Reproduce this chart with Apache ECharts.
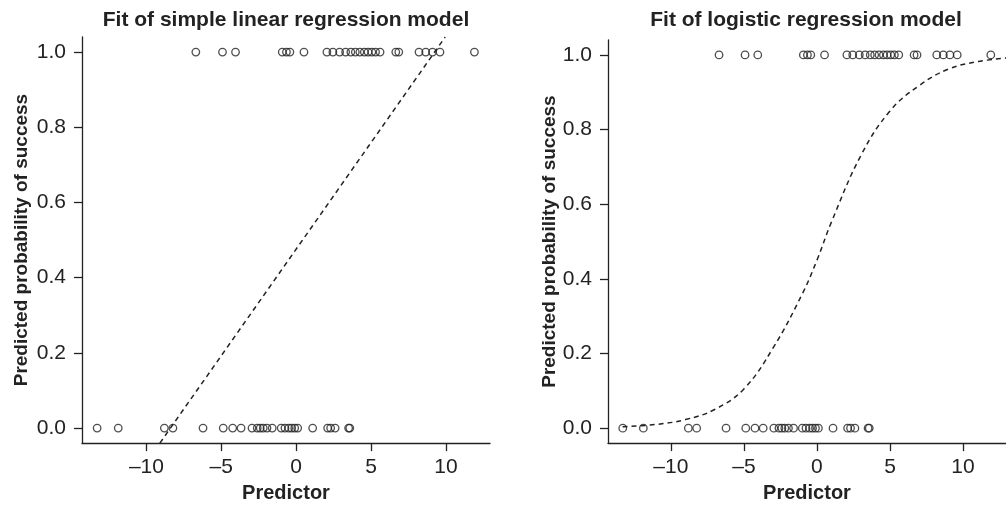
<!DOCTYPE html>
<html>
<head>
<meta charset="utf-8">
<script src="https://cdn.jsdelivr.net/npm/echarts@6/dist/echarts.min.js"></script>
<style>
  html, body { margin: 0; padding: 0; background: #fff; }
  #main { width: 1006px; height: 508px; }
</style>
</head>
<body>
<div id="main"></div>
<script>
const successX = [-6.7, -4.92, -4.05, -0.93, -0.65, -0.42, 0.52,
  2.05, 2.45, 2.9, 3.3, 3.65, 3.95, 4.25, 4.55, 4.8, 5.05, 5.3, 5.6,
  6.65, 6.85, 8.2, 8.65, 9.1, 9.6, 11.9];
const failureX = [-13.29, -11.88, -8.8, -8.23, -6.22, -4.87, -4.24, -3.68,
  -2.95, -2.6, -2.4, -2.2, -1.95, -1.6,
  -1.0, -0.75, -0.5, -0.3, -0.1, 0.1,
  1.1, 2.1, 2.3, 2.6, 3.5, 3.58];

// fitted lines
const linearX = [-9.1, 9.95];
const linearY = [-0.04, 1.04];
const logisticX = [-13.3, -11, -9, -7, -5, -3, -1, 0, 1, 3, 5, 7, 9, 11, 13];
const logisticY = [0.004, 0.01, 0.023, 0.05, 0.105, 0.215, 0.36, 0.45, 0.553,
  0.73, 0.85, 0.918, 0.962, 0.982, 0.992];

const xTicks = [-10, -5, 0, 5, 10];
const yTicks = [0, 0.2, 0.4, 0.6, 0.8, 1.0];

const ink = "#222";
const font = "Liberation Sans, Arial, Helvetica, sans-serif";

function pairs(xs, ys) {
  return xs.map((x, i) => [x, Array.isArray(ys) ? ys[i] : ys]);
}

function xAxis(idx) {
  return {
    gridIndex: idx, type: "value", min: -14.3, max: 12.94,
    name: "Predictor", nameLocation: "middle", nameGap: 35,
    nameTextStyle: { fontFamily: font, fontSize: 20, fontWeight: "bold", color: ink },
    axisLine: { onZero: false, lineStyle: { color: ink, width: 1.3 } },
    axisTick: { show: true, length: 8, customValues: xTicks, lineStyle: { color: ink, width: 1.3 } },
    axisLabel: {
      customValues: xTicks, margin: 14, fontFamily: font, fontSize: 21, color: ink,
      formatter: v => (v < 0 ? "\u2013" + Math.abs(v) : String(v))
    },
    splitLine: { show: false }
  };
}

function yAxis(idx, gap) {
  return {
    gridIndex: idx, type: "value", min: -0.04, max: 1.04,
    name: "Predicted probability of success", nameLocation: "middle", nameGap: gap,
    nameTextStyle: { fontFamily: font, fontSize: 19, fontWeight: "bold", color: ink },
    axisLine: { onZero: false, lineStyle: { color: ink, width: 1.3 } },
    axisTick: { show: true, length: 8, customValues: yTicks, lineStyle: { color: ink, width: 1.3 } },
    axisLabel: {
      customValues: yTicks, margin: 16, fontFamily: font, fontSize: 21, color: ink,
      formatter: v => v.toFixed(1)
    },
    splitLine: { show: false }
  };
}

function points(idx, data) {
  return {
    type: "scatter", xAxisIndex: idx, yAxisIndex: idx, data: data,
    symbol: "circle", symbolSize: 7.5, silent: true,
    itemStyle: { color: "rgba(0,0,0,0)", borderColor: ink, borderWidth: 1.3 }
  };
}

function fitLine(idx, data, smooth) {
  return {
    type: "line", xAxisIndex: idx, yAxisIndex: idx, data: data,
    smooth: smooth, showSymbol: false, silent: true, clip: true,
    lineStyle: { color: ink, width: 1.5, type: [5, 4] }
  };
}

const option = {
  backgroundColor: "#fff",
  animation: false,
  grid: [
    { left: 82, top: 37, width: 408, height: 410 },
    { left: 608, top: 40, width: 409, height: 408 }
  ],
  xAxis: [xAxis(0), xAxis(1)],
  yAxis: [yAxis(0, 51), yAxis(1, 49)],
  graphic: [
    { type: "text", x: 286, y: 20, style: { text: "Fit of simple linear regression model",
      font: "bold 21px " + font, fill: ink, textAlign: "center", textVerticalAlign: "middle" } },
    { type: "text", x: 806, y: 20, style: { text: "Fit of logistic regression model",
      font: "bold 21px " + font, fill: ink, textAlign: "center", textVerticalAlign: "middle" } }
  ],
  series: [
    points(0, pairs(successX, 1)),
    points(0, pairs(failureX, 0)),
    fitLine(0, pairs(linearX, linearY), false),
    points(1, pairs(successX, 1)),
    points(1, pairs(failureX, 0)),
    fitLine(1, pairs(logisticX, logisticY), 0.4)
  ]
};

var myChart = echarts.init(document.getElementById("main"));
myChart.setOption(option);
</script>
</body>
</html>
